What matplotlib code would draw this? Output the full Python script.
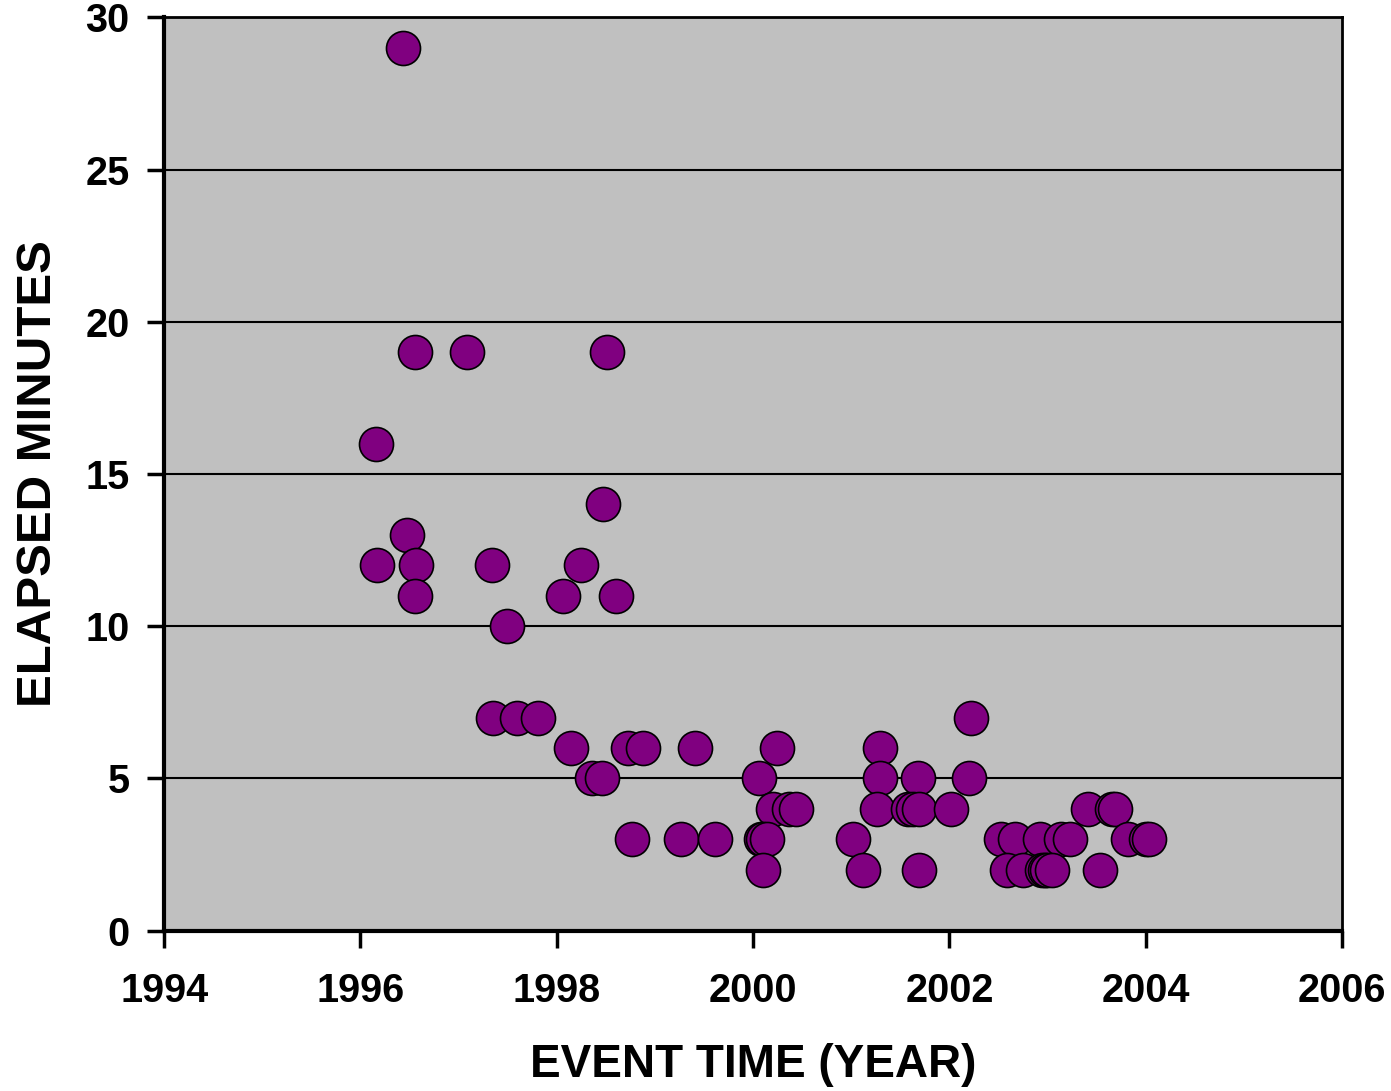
import matplotlib
matplotlib.use("Agg")
import matplotlib.pyplot as plt

plt.rcParams['font.family'] = ['Liberation Sans', 'DejaVu Sans']
plt.rcParams['font.weight'] = 'bold'

# event dates (decimal year) and elapsed minutes, grouped by minute value
year = [1996.43,
        1996.56, 1997.09, 1998.51,
        1996.16,
        1998.47,
        1996.47,
        1996.17, 1996.57, 1997.34, 1998.25,
        1996.56, 1998.06, 1998.60,
        1997.49,
        1997.35, 1997.59, 1997.81, 2002.22,
        1998.14, 1998.73, 1998.88, 1999.41, 2000.24, 2001.29,
        1998.36, 1998.46, 2000.06, 2001.29, 2001.68, 2002.20,
        2000.20, 2000.37, 2000.44, 2001.26, 2001.58, 2001.63, 2001.69,
        2002.02, 2003.41, 2003.66, 2003.69,
        1998.77, 1999.27, 1999.61, 2000.08, 2000.10, 2000.14, 2001.02,
        2002.53, 2002.67, 2002.92, 2003.14, 2003.23, 2003.82, 2004.00, 2004.03,
        2000.10, 2001.12, 2001.69, 2002.59, 2002.75, 2002.94, 2002.97,
        2002.99, 2003.05, 2003.53]
minutes = [29,
           19, 19, 19,
           16,
           14,
           13,
           12, 12, 12, 12,
           11, 11, 11,
           10,
           7, 7, 7, 7,
           6, 6, 6, 6, 6, 6,
           5, 5, 5, 5, 5, 5,
           4, 4, 4, 4, 4, 4, 4,
           4, 4, 4, 4,
           3, 3, 3, 3, 3, 3, 3,
           3, 3, 3, 3, 3, 3, 3, 3,
           2, 2, 2, 2, 2, 2, 2,
           2, 2, 2]

x_ticks = [1994, 1996, 1998, 2000, 2002, 2004, 2006]
y_ticks = [0, 5, 10, 15, 20, 25, 30]

fig = plt.figure(figsize=(13.91, 10.91), dpi=100)
ax = fig.add_axes([0.118, 0.147, 0.8468, 0.837])
ax.set_facecolor('#C0C0C0')

ax.scatter(year, minutes, s=600, c='#800080', edgecolors='black',
           linewidths=1.2, zorder=3)

ax.set_xlim(1994, 2006)
ax.set_ylim(0, 30)
ax.set_xticks(x_ticks)
ax.set_yticks(y_ticks)
ax.yaxis.grid(True, color='black', linewidth=1.5)
ax.set_axisbelow(True)

for side in ['left', 'bottom']:
    ax.spines[side].set_linewidth(3)
for side in ['top', 'right']:
    ax.spines[side].set_linewidth(2)

ax.tick_params(axis='both', direction='out', length=12, width=2.5,
               labelsize=28.5)
ax.tick_params(axis='x', pad=18)
ax.tick_params(axis='y', pad=13)

ax.set_xlabel('EVENT TIME (YEAR)', fontsize=33, fontweight='bold', va='center')
ax.set_ylabel('ELAPSED MINUTES', fontsize=35.5, fontweight='bold', va='center')
ax.xaxis.set_label_coords(0.5, -0.147)
ax.yaxis.set_label_coords(-0.1065, 0.5)

fig.savefig('out.png', dpi=100)
